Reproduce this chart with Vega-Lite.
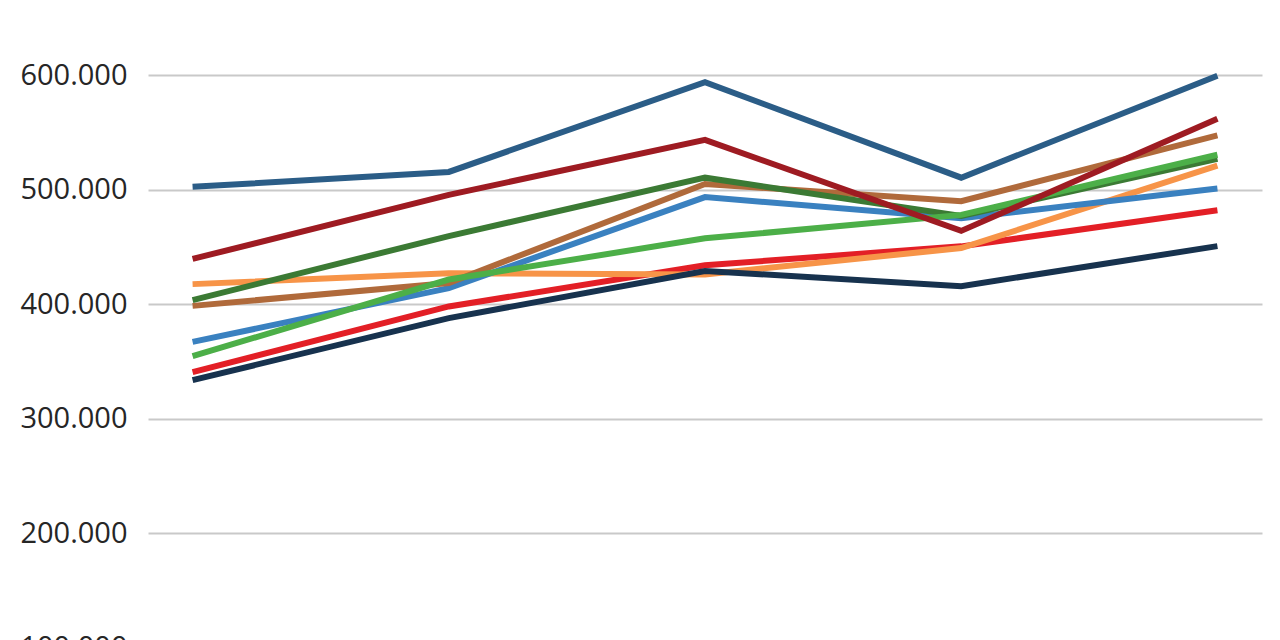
{
  "$schema": "https://vega.github.io/schema/vega-lite/v6.json",
  "autosize": {"type": "none"},
  "width": 1114,
  "height": 622,
  "padding": {"left": 148, "top": 18, "right": 18, "bottom": 0},
  "background": "#ffffff",
  "config": {"view": {"stroke": null}},
  "data": {
    "values": [
      {"periode": "1", "serie": "Serie A", "wert": 340600},
      {"periode": "2", "serie": "Serie A", "wert": 398000},
      {"periode": "3", "serie": "Serie A", "wert": 434000},
      {"periode": "4", "serie": "Serie A", "wert": 450500},
      {"periode": "5", "serie": "Serie A", "wert": 482000},
      {"periode": "1", "serie": "Serie B", "wert": 417500},
      {"periode": "2", "serie": "Serie B", "wert": 427000},
      {"periode": "3", "serie": "Serie B", "wert": 426000},
      {"periode": "4", "serie": "Serie B", "wert": 449000},
      {"periode": "5", "serie": "Serie B", "wert": 521000},
      {"periode": "1", "serie": "Serie C", "wert": 333600},
      {"periode": "2", "serie": "Serie C", "wert": 387800},
      {"periode": "3", "serie": "Serie C", "wert": 429000},
      {"periode": "4", "serie": "Serie C", "wert": 415700},
      {"periode": "5", "serie": "Serie C", "wert": 450700},
      {"periode": "1", "serie": "Serie D", "wert": 367000},
      {"periode": "2", "serie": "Serie D", "wert": 414000},
      {"periode": "3", "serie": "Serie D", "wert": 493500},
      {"periode": "4", "serie": "Serie D", "wert": 475000},
      {"periode": "5", "serie": "Serie D", "wert": 501000},
      {"periode": "1", "serie": "Serie E", "wert": 398500},
      {"periode": "2", "serie": "Serie E", "wert": 418500},
      {"periode": "3", "serie": "Serie E", "wert": 505000},
      {"periode": "4", "serie": "Serie E", "wert": 490000},
      {"periode": "5", "serie": "Serie E", "wert": 547500},
      {"periode": "1", "serie": "Serie F", "wert": 403500},
      {"periode": "2", "serie": "Serie F", "wert": 459500},
      {"periode": "3", "serie": "Serie F", "wert": 510500},
      {"periode": "4", "serie": "Serie F", "wert": 477000},
      {"periode": "5", "serie": "Serie F", "wert": 527000},
      {"periode": "1", "serie": "Serie G", "wert": 354600},
      {"periode": "2", "serie": "Serie G", "wert": 421500},
      {"periode": "3", "serie": "Serie G", "wert": 457500},
      {"periode": "4", "serie": "Serie G", "wert": 478000},
      {"periode": "5", "serie": "Serie G", "wert": 530500},
      {"periode": "1", "serie": "Serie H", "wert": 439500},
      {"periode": "2", "serie": "Serie H", "wert": 495500},
      {"periode": "3", "serie": "Serie H", "wert": 543500},
      {"periode": "4", "serie": "Serie H", "wert": 464000},
      {"periode": "5", "serie": "Serie H", "wert": 562000},
      {"periode": "1", "serie": "Serie I", "wert": 502500},
      {"periode": "2", "serie": "Serie I", "wert": 515500},
      {"periode": "3", "serie": "Serie I", "wert": 594000},
      {"periode": "4", "serie": "Serie I", "wert": 510500},
      {"periode": "5", "serie": "Serie I", "wert": 599500}
    ]
  },
  "mark": {"type": "line", "strokeWidth": 6, "strokeCap": "butt", "strokeJoin": "miter"},
  "encoding": {
    "x": {
      "field": "periode",
      "type": "ordinal",
      "sort": null,
      "scale": {"type": "point", "padding": 0.174},
      "axis": null
    },
    "y": {
      "field": "wert",
      "type": "quantitative",
      "scale": {"domain": [0, 650000], "nice": false, "zero": false, "range": [744, 0]},
      "axis": {
        "values": [0, 100000, 200000, 300000, 400000, 500000, 600000],
        "labelExpr": "replace(format(datum.value, ','), ',', '.')",
        "title": null,
        "domain": false,
        "ticks": false,
        "grid": true,
        "gridColor": "#c9c9c9",
        "gridWidth": 2,
        "labelFont": "Open Sans",
        "labelFontSize": 29,
        "labelColor": "#262626",
        "labelPadding": 21
      }
    },
    "color": {
      "field": "serie",
      "type": "nominal",
      "scale": {
        "domain": ["Serie A", "Serie B", "Serie C", "Serie D", "Serie E", "Serie F", "Serie G", "Serie H", "Serie I"],
        "range": ["#e31f26", "#f79448", "#17324e", "#3a81c0", "#b06a3b", "#3b7a34", "#4caf48", "#9e1b22", "#2b5d87"]
      },
      "legend": null
    }
  }
}
